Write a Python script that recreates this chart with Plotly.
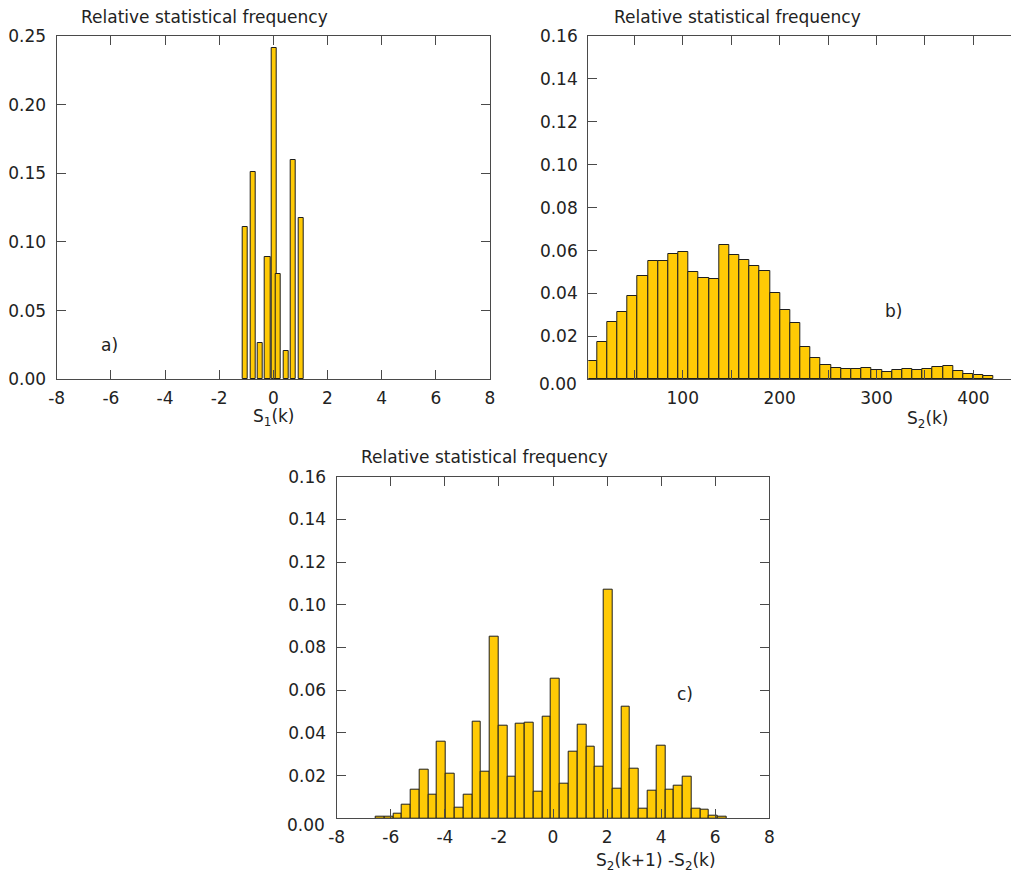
import numpy as np
import plotly.graph_objects as go

# ---------------- data ----------------
# Panel a) : S1(k)
a_x = [-1.045, -0.757, -0.484, -0.214, 0.037, 0.174, 0.469, 0.735, 1.023]
a_freq = [0.111, 0.1507, 0.0262, 0.0893, 0.2415, 0.0769, 0.0206, 0.160, 0.1177]
a_bar_width = 0.196

# Panel b) : S2(k) histogram (40 bins)
b_bin_start = 1.0
b_bin_width = 10.5
b_freq = [0.0086, 0.0172, 0.0266, 0.0314, 0.0389, 0.0482, 0.0552, 0.0552, 0.0586, 0.0595,
          0.0499, 0.0473, 0.0468, 0.0626, 0.0580, 0.0556, 0.0530, 0.0503, 0.0403, 0.0323,
          0.0262, 0.0152, 0.0101, 0.0068, 0.0051, 0.0047, 0.0047, 0.0051, 0.0043, 0.0034,
          0.0042, 0.0047, 0.0042, 0.0047, 0.0056, 0.0064, 0.0037, 0.0025, 0.0020, 0.0015]

# Panel c) : S2(k+1) - S2(k) histogram (40 bins)
c_bin_start = -6.557
c_bin_width = 0.3245
c_freq = [0.0008, 0.0008, 0.0020, 0.0066, 0.0133, 0.0230, 0.0109, 0.0360, 0.0208, 0.0048,
          0.0109, 0.0454, 0.0217, 0.0852, 0.0432, 0.0193, 0.0442, 0.0450, 0.0123, 0.0477,
          0.0653, 0.0162, 0.0312, 0.0440, 0.0334, 0.0242, 0.1073, 0.0141, 0.0521, 0.0232,
          0.0047, 0.0131, 0.0340, 0.0136, 0.0153, 0.0197, 0.0047, 0.0042, 0.0012, 0.0008]

sym_xticks = [-8, -6, -4, -2, 0, 2, 4, 6, 8]
sym_xticktext = ["-8", "-6", "-4", "-2", "0", "2", "4", "6", "8"]
b_xticks = [100, 200, 300, 400]
b_xticktext = ["100", "200", "300", "400"]
bc_yticks = [0.02, 0.04, 0.06, 0.08, 0.10, 0.12, 0.14, 0.16]   # "0.00" drawn separately (sits lower)
zero_label = "0.00"

title_text = "Relative statistical frequency"

# ---------------- styling ----------------
W, H = 1011, 873
FONT = "DejaVu Sans"
FS = 17
BAR_COLOR = "#FFCA05"
EDGE_COLOR = "#1e1e1e"
AXIS_COLOR = "#4a4a4a"
TEXT_COLOR = "#222222"


def px_x(p):
    return min(max(p / W, 0.0), 1.0)


def px_y(p):
    return min(max(1 - p / H, 0.0), 1.0)


b_centers = b_bin_start + b_bin_width * (np.arange(len(b_freq)) + 0.5)
c_centers = c_bin_start + c_bin_width * (np.arange(len(c_freq)) + 0.5)

fig = go.Figure()

bar_common = dict(marker=dict(color=BAR_COLOR, line=dict(color=EDGE_COLOR, width=1)),
                  showlegend=False, hoverinfo="x+y")

fig.add_trace(go.Bar(x=a_x, y=a_freq, width=[a_bar_width] * len(a_x),
                     xaxis="x", yaxis="y", **bar_common))
fig.add_trace(go.Bar(x=b_centers, y=b_freq, width=[b_bin_width] * len(b_freq),
                     xaxis="x2", yaxis="y2", **bar_common))
fig.add_trace(go.Bar(x=c_centers, y=c_freq, width=[c_bin_width] * len(c_freq),
                     xaxis="x3", yaxis="y3", **bar_common))

axis_base = dict(showline=True, linecolor=AXIS_COLOR, linewidth=1.3,
                 ticks="inside", ticklen=9, tickwidth=1.2, tickcolor=AXIS_COLOR,
                 showgrid=False, zeroline=False, automargin=False,
                 tickfont=dict(family=FONT, size=FS, color=TEXT_COLOR))
axis_common = dict(axis_base, mirror="ticks")

# domains (pixel positions measured on the reference page)
a_left_px = 56.7
b_left_px, b_right_px = 588.3, 1011.0      # panel b runs off the right page edge
c_left_px = 336.7
a_dom_x = [px_x(a_left_px), px_x(490)]
b_px_per_unit = 0.9687
b_range = [2.5, 2.5 + (b_right_px - b_left_px) / b_px_per_unit]
b_dom_x = [px_x(b_left_px), px_x(b_right_px)]
c_dom_x = [px_x(c_left_px), px_x(769.3)]
ab_dom_y = [px_y(379.3), px_y(36)]
c_dom_y = [px_y(818.3), px_y(476.7)]

fig.update_layout(
    xaxis=dict(domain=a_dom_x, range=[-8, 8], tickvals=sym_xticks, ticktext=sym_xticktext,
               anchor="y", ticklabelstandoff=3, **axis_common),
    yaxis=dict(domain=ab_dom_y, range=[0, 0.25], dtick=0.05, tickformat=".2f", anchor="x",
               ticklabelstandoff=6, **axis_common),
    xaxis2=dict(domain=b_dom_x, range=b_range, tickvals=b_xticks, ticktext=b_xticktext,
                minor=dict(dtick=50, tick0=0, ticks="inside", ticklen=9, tickwidth=1.2,
                           tickcolor=AXIS_COLOR, showgrid=False),
                anchor="y2", ticklabelstandoff=3, **axis_common),
    yaxis2=dict(domain=ab_dom_y, range=[0, 0.16], tickvals=bc_yticks, tickformat=".2f",
                anchor="x2", ticklabelstandoff=6, mirror=False, **axis_base),
    xaxis3=dict(domain=c_dom_x, range=[-8, 8], tickvals=sym_xticks, ticktext=sym_xticktext,
                anchor="y3", ticklabelstandoff=3, **axis_common),
    yaxis3=dict(domain=c_dom_y, range=[0, 0.16], tickvals=bc_yticks, tickformat=".2f",
                anchor="x3", ticklabelstandoff=6, **axis_common),
    width=W, height=H, autosize=False,
    margin=dict(l=0, r=0, t=0, b=0, pad=0, autoexpand=False),
    paper_bgcolor="white", plot_bgcolor="white",
    bargap=0, barmode="overlay",
    font=dict(family=FONT, size=FS, color=TEXT_COLOR),
)

ann_font = dict(family=FONT, size=FS, color=TEXT_COLOR)
annotations = [
    # titles
    dict(text=title_text, x=px_x(79), y=px_y(17), xanchor="left", yanchor="middle"),
    dict(text=title_text, x=px_x(611.7), y=px_y(17), xanchor="left", yanchor="middle"),
    dict(text=title_text, x=px_x(359), y=px_y(456.7), xanchor="left", yanchor="middle"),
    # axis titles
    dict(text="S<sub>1</sub>(k)", x=px_x(273), y=px_y(417), xanchor="center", yanchor="middle"),
    dict(text="S<sub>2</sub>(k)", x=px_x(927), y=px_y(419), xanchor="center", yanchor="middle"),
    dict(text="S<sub>2</sub>(k+1) -S<sub>2</sub>(k)", x=px_x(656), y=px_y(861), xanchor="center",
         yanchor="middle"),
    # panel labels
    dict(text="a)", x=px_x(109), y=px_y(345), xanchor="center", yanchor="middle"),
    dict(text="b)", x=px_x(893), y=px_y(310.7), xanchor="center", yanchor="middle"),
    dict(text="c)", x=px_x(685), y=px_y(694), xanchor="center", yanchor="middle"),
    # lowered zero labels of panels b and c
    dict(text=zero_label, x=px_x(b_left_px - 9.5), y=px_y(384), xanchor="right", yanchor="middle"),
    dict(text=zero_label, x=px_x(c_left_px - 9.5), y=px_y(825), xanchor="right", yanchor="middle"),
]
for a in annotations:
    a.update(xref="paper", yref="paper", showarrow=False, font=ann_font)
fig.update_layout(annotations=annotations)

fig.write_html("out.html", config={"displayModeBar": False},
               post_script="document.body.style.margin='0';document.body.style.padding='0';"
                           "document.body.style.overflow='hidden';")
